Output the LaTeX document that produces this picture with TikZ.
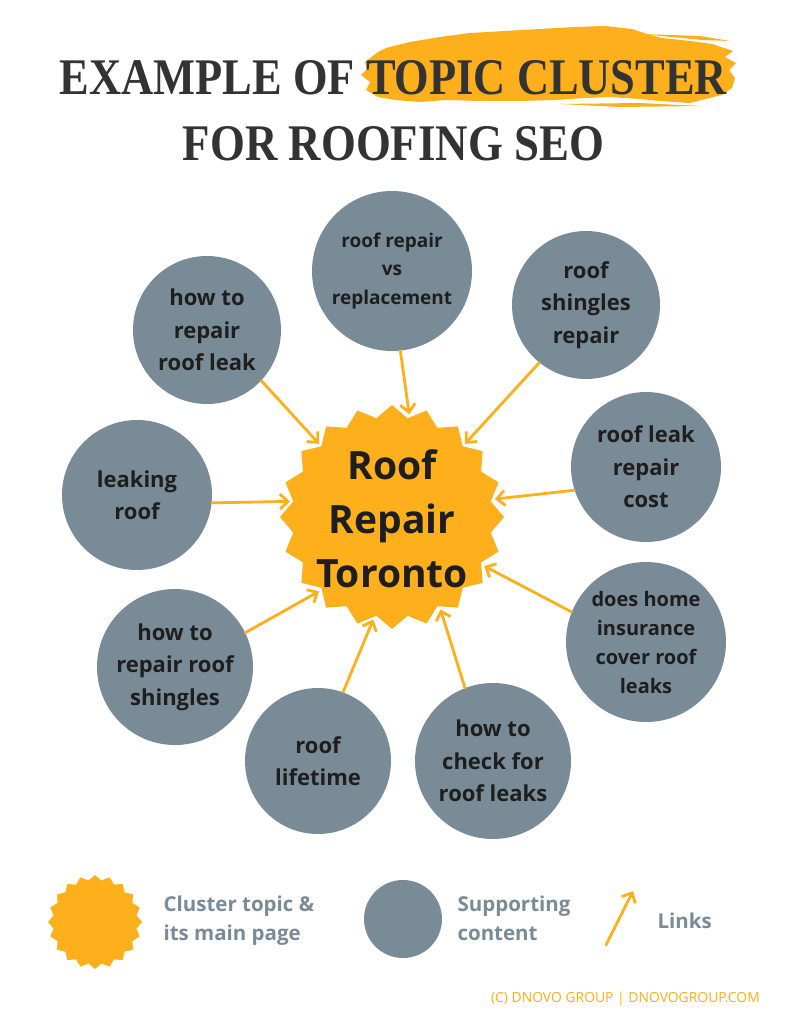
\documentclass[tikz,border=0pt]{standalone}
\usepackage{fontspec}
\setmainfont{Open Sans}
\newfontfamily\titlefont{Liberation Serif}
\usetikzlibrary{shapes.geometric,arrows.meta}
\definecolor{brandorange}{HTML}{FDB01B}
\definecolor{slate}{HTML}{7A8B98}
\definecolor{ink}{HTML}{1E1E1E}
\definecolor{titleink}{HTML}{333333}
\tikzset{
  topic/.style={circle, fill=slate, minimum size=#1, inner sep=0pt, align=center, text=ink,
    font=\bfseries\fontsize{22}{32.5}\selectfont},
  hubstar/.style={star, star points=20, star point ratio=1.12, fill=brandorange, inner sep=0pt, minimum size=#1},
  link/.style={draw=brandorange, line width=2.8pt, line cap=round,
    -{Straight Barb[length=8pt,width=15pt,line width=2.8pt]}, shorten >=3pt},
  legendtext/.style={anchor=west, align=left, text=slate, font=\bfseries\fontsize{20.5}{29}\selectfont},
}
\begin{document}
\begin{tikzpicture}[x=1pt,y=-1pt]
\useasboundingbox (0,0) rectangle (788,1024);
\fill[white] (0,0) rectangle (788,1024);

% brush stroke
\fill[brandorange] (365,62) -- (378,52) -- (386,48) -- (410,42) -- (440,37) -- (470,33) -- (505,31)
  -- (540,29) -- (575,27) -- (605,26) -- (632,29) -- (650,35) -- (662,38) -- (690,41) -- (712,44)
  -- (733,51) -- (725,57) -- (736,63) -- (729,70) -- (735,78) -- (732,88) -- (722,95) -- (705,99)
  -- (690,103) -- (660,101) -- (640,99) -- (610,97) -- (585,98) -- (555,100) -- (520,101)
  -- (480,101) -- (445,100) -- (420,102) -- (395,100) -- (378,97) -- (366,90) -- (370,82)
  -- (361,75) -- (367,69) -- cycle;
\fill[brandorange] (640,34) -- (700,36) -- (730,41) -- (702,40) -- cycle;
\fill[brandorange] (560,104) -- (640,103) -- (700,106) -- (620,107) -- cycle;

% title
\node[text=titleink, inner sep=0pt] (title1) at (393.5,78)
  {\resizebox{667pt}{34pt}{\titlefont\bfseries EXAMPLE OF TOPIC CLUSTER}};
\node[text=titleink, inner sep=0pt] (title2) at (393.5,144)
  {\resizebox{421pt}{34pt}{\titlefont\bfseries FOR ROOFING SEO}};

% hub
\node[hubstar=224pt] (hub) at (392,517) {};
\node[align=center, text=ink, font=\bfseries\fontsize{39}{54}\selectfont] (hubtext) at (392,519)
  {Roof\\Repair\\Toronto};

% supporting topics
\node[topic=160pt, font=\bfseries\fontsize{19}{28.5}\selectfont] (crr) at (392,271) {roof repair\\vs\\replacement};
\node[topic=148pt] (cleak) at (207,330) {how to\\repair\\roof leak};
\node[topic=148pt] (cshin) at (586,305) {roof\\shingles\\repair};
\node[topic=150pt] (ccost) at (646,467) {roof leak\\repair\\cost};
\node[topic=150pt] (cleaking) at (137,495) {leaking\\roof};
\node[topic=160pt, font=\bfseries\fontsize{20}{29}\selectfont] (cins) at (646,642) {does home\\insurance\\cover roof\\leaks};
\node[topic=156pt] (cshg) at (175,667) {how to\\repair roof\\shingles};
\node[topic=146pt] (clife) at (318,761) {roof\\lifetime};
\node[topic=156pt] (ccheck) at (493,761) {how to\\check for\\roof leaks};

% links
\draw[link] (crr.-84) -- (hub.80);
\draw[link] (cleak.-43) -- (hub.135);
\draw[link] (cshin.-129) -- (hub.45);
\draw[link] (ccost.-162) -- (hub.10);
\draw[link] (cleaking.-6) -- (hub.171);
\draw[link] (cins.158) -- (hub.-28);
\draw[link] (cshg.26) -- (hub.-134);
\draw[link] (clife.70) -- (hub.-100);
\draw[link] (ccheck.111) -- (hub.-62);

% legend
\node[hubstar=94pt] (lstar) at (95,922) {};
\node[legendtext] (ltext1) at (160,921) {Cluster topic \&\\its main page};
\node[circle, fill=slate, minimum size=78pt, inner sep=0pt] (lcirc) at (403,919) {};
\node[legendtext] (ltext2) at (454,918) {Supporting\\content};
\coordinate (la) at (606,945);
\coordinate (lb) at (633,891);
\draw[link, shorten >=0pt] (la) -- (lb);
\node[legendtext] (ltext3) at (654,921) {Links};

% footer
\node[anchor=east, text=brandorange, font=\fontsize{13.9}{16}\selectfont, inner sep=0pt] (footer) at (760,999)
  {(C) DNOVO GROUP | DNOVOGROUP.COM};
\end{tikzpicture}
\end{document}
